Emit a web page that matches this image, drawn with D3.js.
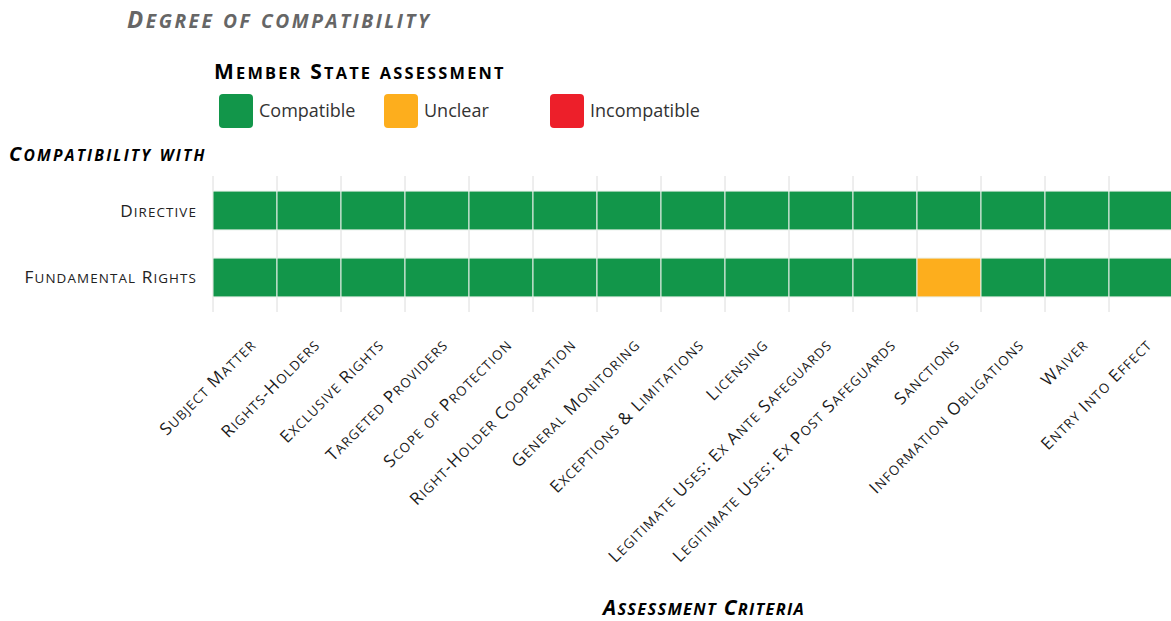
<!DOCTYPE html>
<html>
<head>
<meta charset="utf-8">
<script src="https://cdn.jsdelivr.net/npm/d3@7"></script>
<style>
  body { margin: 0; background: #fff; }
  svg text { font-family: "Open Sans", "Lato", sans-serif; }
</style>
</head>
<body>
<div id="chart"></div>
<script>
// Data
const criteria = [
    "Subject Matter", "Rights-Holders", "Exclusive Rights", "Targeted Providers",
    "Scope of Protection", "Right-Holder Cooperation", "General Monitoring",
    "Exceptions & Limitations", "Licensing", "Legitimate Uses: Ex Ante Safeguards",
    "Legitimate Uses: Ex Post Safeguards", "Sanctions", "Information Obligations",
    "Waiver", "Entry Into Effect"
];
const rows = ["Directive", "Fundamental Rights"];
const directiveValues = ["Compatible", "Compatible", "Compatible", "Compatible", "Compatible",
    "Compatible", "Compatible", "Compatible", "Compatible", "Compatible", "Compatible",
    "Compatible", "Compatible", "Compatible", "Compatible"];
const rightsValues = ["Compatible", "Compatible", "Compatible", "Compatible", "Compatible",
    "Compatible", "Compatible", "Compatible", "Compatible", "Compatible", "Compatible",
    "Unclear", "Compatible", "Compatible", "Compatible"];
const categories = ["Compatible", "Unclear", "Incompatible"];
const categoryColors = ["#12964a", "#fdae1d", "#ed1f2a"];

const width = 1171;
const height = 621;

// small caps by hand: lowercase runs become smaller capitals
function smallCaps(sel, size, ratio = 0.78) {
    sel.each(function (d) {
        const t = d3.select(this);
        const str = typeof d === "string" ? d : t.attr("data-label");
        t.text(null);
        (str.match(/[a-z]+|[^a-z]+/g) || []).forEach(part => {
            const lower = /^[a-z]+$/.test(part);
            t.append("tspan")
                .style("font-size", (lower ? size * ratio : size) + "px")
                .text(part.toUpperCase());
        });
    });
}

const svg = d3.select("#chart").append("svg")
    .attr("width", width)
    .attr("height", height);

const color = d3.scaleOrdinal().domain(categories).range(categoryColors);

const x = d3.scaleBand()
    .domain(criteria)
    .range([213, 1173]);

const y = d3.scaleBand()
    .domain(rows)
    .range([176, 312])
    .paddingInner(0.42)
    .paddingOuter(0.225);

// Titles
svg.append("text")
    .attr("x", 127)
    .attr("y", 28)
    .attr("data-label", "Degree of compatibility")
    .attr("fill", "#666")
    .style("font-weight", "bold")
    .style("font-style", "italic")
    .style("letter-spacing", "2.5px")
    .call(smallCaps, 24, 0.8);

svg.append("text")
    .attr("x", 214)
    .attr("y", 79)
    .attr("data-label", "Member State assessment")
    .attr("fill", "#000")
    .style("font-weight", "bold")
    .style("letter-spacing", "2.2px")
    .call(smallCaps, 21);

// Legend
const legendX = [219, 384, 550];
const legend = svg.selectAll("g.legend")
    .data(categories)
    .enter()
    .append("g")
    .attr("class", "legend")
    .attr("transform", (d, i) => `translate(${legendX[i]},94)`);

legend.append("rect")
    .attr("width", 34)
    .attr("height", 34)
    .attr("rx", 4)
    .attr("fill", d => color(d));

legend.append("text")
    .attr("x", 40)
    .attr("y", 17)
    .attr("dy", "0.35em")
    .attr("fill", "#333")
    .style("font-size", "18px")
    .text(d => d);

svg.append("text")
    .attr("x", 9)
    .attr("y", 161)
    .attr("data-label", "Compatibility with")
    .attr("fill", "#000")
    .style("font-weight", "bold")
    .style("font-style", "italic")
    .style("letter-spacing", "2.2px")
    .call(smallCaps, 20);

// Vertical gridlines at band edges
const edges = criteria.map(d => x(d)).concat([x.range()[1]]);
svg.selectAll("line.grid")
    .data(edges)
    .enter()
    .append("line")
    .attr("class", "grid")
    .attr("x1", d => d)
    .attr("x2", d => d)
    .attr("y1", 176)
    .attr("y2", 312)
    .attr("stroke", "#dcdcdc")
    .attr("stroke-width", 1);

// Cells
const cells = [];
criteria.forEach((c, i) => {
    cells.push({ row: "Directive", col: c, value: directiveValues[i] });
    cells.push({ row: "Fundamental Rights", col: c, value: rightsValues[i] });
});

svg.selectAll("rect.cell")
    .data(cells)
    .enter()
    .append("rect")
    .attr("class", "cell")
    .attr("x", d => x(d.col))
    .attr("y", d => y(d.row))
    .attr("width", x.bandwidth())
    .attr("height", y.bandwidth())
    .attr("fill", d => color(d.value))
    .attr("stroke", "#e8efe9")
    .attr("stroke-width", 1);

// Row labels
svg.selectAll("text.rowlabel")
    .data(rows)
    .enter()
    .append("text")
    .attr("class", "rowlabel")
    .attr("x", 197)
    .attr("y", d => y(d) + y.bandwidth() / 2 + 6)
    .attr("text-anchor", "end")
    .attr("fill", "#222")
    .style("letter-spacing", "1.1px")
    .call(smallCaps, 17.2);

// Column labels
svg.selectAll("text.collabel")
    .data(criteria)
    .enter()
    .append("text")
    .attr("class", "collabel")
    .attr("text-anchor", "end")
    .attr("transform", d => `translate(${x(d) + x.bandwidth() / 2 + 12},346) rotate(-45)`)
    .attr("fill", "#1a1a1a")
    .style("letter-spacing", "1.1px")
    .call(smallCaps, 17);

svg.append("text")
    .attr("x", 704)
    .attr("y", 615)
    .attr("text-anchor", "middle")
    .attr("data-label", "Assessment Criteria")
    .attr("fill", "#000")
    .style("font-weight", "bold")
    .style("font-style", "italic")
    .style("letter-spacing", "1.3px")
    .call(smallCaps, 21);
</script>
</body>
</html>
